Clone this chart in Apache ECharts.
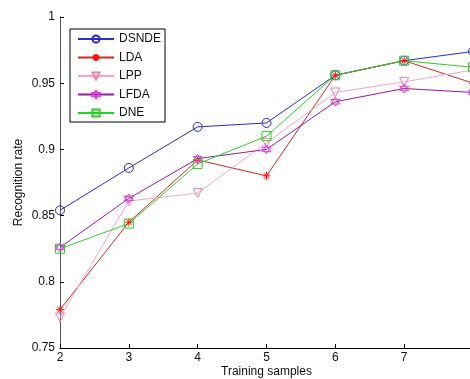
<!DOCTYPE html>
<html>
<head>
<meta charset="utf-8">
<script src="https://cdn.jsdelivr.net/npm/echarts@6/dist/echarts.min.js"></script>
<style>
  html, body { margin: 0; padding: 0; background: #fff; }
  #chart { width: 470px; height: 379px; }
</style>
</head>
<body>
<div id="chart"></div>
<script>
// data
var samples = [2, 3, 4, 5, 6, 7, 8];
var dsnde = [0.854, 0.886, 0.917, 0.920, 0.956, 0.967, 0.974];
var lda   = [0.779, 0.845, 0.892, 0.880, 0.956, 0.967, 0.950];
var lpp   = [0.773, 0.861, 0.867, 0.905, 0.943, 0.951, 0.960];
var lfda  = [0.826, 0.863, 0.893, 0.900, 0.936, 0.946, 0.943];
var dne   = [0.825, 0.844, 0.889, 0.910, 0.956, 0.967, 0.962];
var xTicks = ['2', '3', '4', '5', '6', '7'];
var yTicks = ['0.75', '0.8', '0.85', '0.9', '0.95', '1'];

var chart = echarts.init(document.getElementById('chart'));

var font = 'Arial, "Liberation Sans", sans-serif';
var starPath = 'path://M0,5L10,5M5,0L5,10M1.5,1.5L8.5,8.5M8.5,1.5L1.5,8.5';
var hexPath = 'path://M5,0L9.33,7.5L0.67,7.5ZM5,10L0.67,2.5L9.33,2.5Z';

function pairs(ys) {
    return samples.map(function (x, i) { return [x, ys[i]]; });
}

function mkSeries(name, ys, lineColor, markColor, symbol, size, rotate) {
    return {
        name: name,
        type: 'line',
        data: pairs(ys),
        symbol: symbol,
        symbolSize: size,
        symbolRotate: rotate || 0,
        color: lineColor,
        lineStyle: { color: lineColor, width: 1 },
        itemStyle: { color: 'rgba(255,255,255,0)', borderColor: markColor, borderWidth: 1 },
        emphasis: { disabled: true },
        animation: false
    };
}

chart.setOption({
    backgroundColor: '#fff',
    grid: { left: 60, top: 17, width: 413, height: 331, outerBoundsMode: 'none' },
    legend: {
        left: 70, top: 29,
        orient: 'vertical',
        backgroundColor: '#fff',
        borderColor: '#000',
        borderWidth: 1,
        borderRadius: 0,
        padding: [4, 4, 3, 7],
        itemWidth: 36,
        itemHeight: 9,
        itemGap: 6.5,
        textStyle: { fontFamily: font, fontSize: 12, color: '#111' },
        data: ['DSNDE', 'LDA', 'LPP', 'LFDA', 'DNE']
    },
    xAxis: {
        type: 'value',
        min: 2, max: 8, interval: 1,
        name: 'Training samples',
        nameLocation: 'middle',
        nameGap: 18,
        nameMoveOverlap: false,
        nameTextStyle: { fontFamily: font, fontSize: 12, color: '#111' },
        axisLine: { lineStyle: { color: '#000', width: 1 } },
        axisTick: { inside: true, length: 4, lineStyle: { color: '#000' } },
        axisLabel: {
            fontFamily: font, fontSize: 12, color: '#111', margin: 4,
            formatter: function (v) { return xTicks.indexOf(String(v)) >= 0 ? String(v) : ''; }
        },
        splitLine: { show: false }
    },
    yAxis: {
        type: 'value',
        min: 0.75, max: 1, interval: 0.05,
        name: 'Recognition rate',
        nameLocation: 'middle',
        nameGap: 35,
        nameMoveOverlap: false,
        nameTextStyle: { fontFamily: font, fontSize: 12, color: '#111' },
        axisLine: { show: true, lineStyle: { color: '#555', width: 1 } },
        axisTick: { inside: true, length: 4, lineStyle: { color: '#000' } },
        axisLabel: {
            fontFamily: font, fontSize: 12, color: '#111', margin: 5,
            formatter: function (v) { return yTicks[Math.round((v - 0.75) / 0.05)]; }
        },
        splitLine: { show: false }
    },
    series: [
        mkSeries('DSNDE', dsnde, '#2a2ad0', '#2a2ad0', 'circle', 9),
        mkSeries('LDA', lda, '#d02828', '#ff1010', starPath, 8),
        mkSeries('LPP', lpp, '#f4a6c8', '#f080b0', 'triangle', 9, 180),
        mkSeries('LFDA', lfda, '#9a1aa0', '#e040e0', hexPath, 9),
        mkSeries('DNE', dne, '#28d028', '#28d028', 'rect', 9)
    ]
});
</script>
</body>
</html>
